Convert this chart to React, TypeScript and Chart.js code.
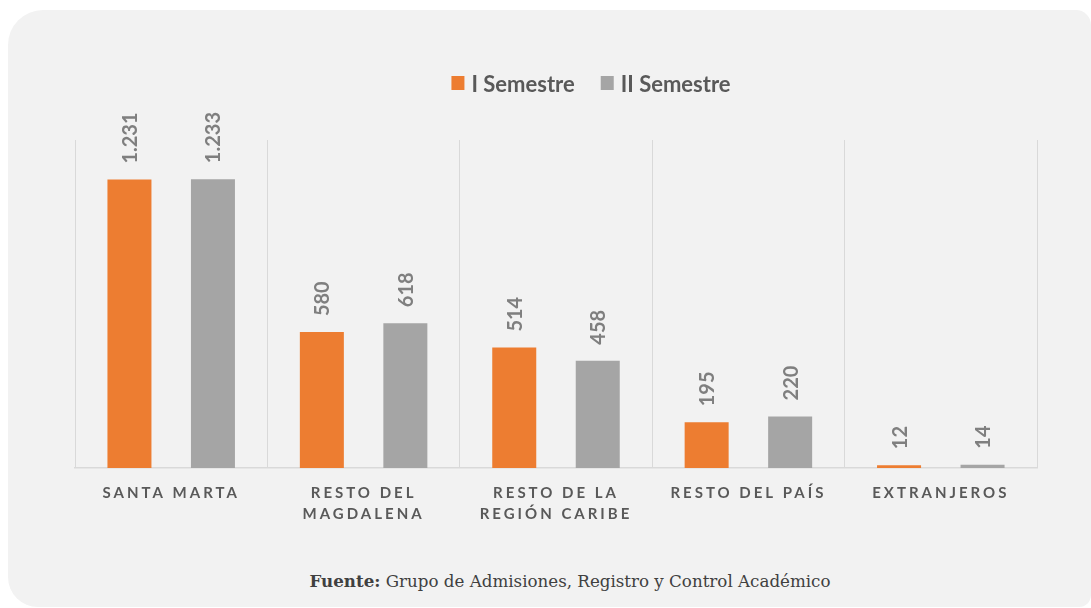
import React, { useEffect, useRef } from "react";
import { Chart, registerables } from "chart.js";

Chart.register(...registerables);

// ---- Data ----
const categories: string[][] = [
  ["SANTA MARTA"],
  ["RESTO DEL", "MAGDALENA"],
  ["RESTO DE LA", "REGIÓN CARIBE"],
  ["RESTO DEL PAÍS"],
  ["EXTRANJEROS"],
];
const semestreI = [1231, 580, 514, 195, 12];
const semestreII = [1233, 618, 458, 220, 14];
const seriesNames = ["I Semestre", "II Semestre"];
const yMax = 1400;

// ---- Styles ----
const ORANGE = "#ED7D31";
const GRAY = "#A5A5A5";
const TEXT_DARK = "#595959";
const LABEL_GRAY = "#7F7F7F";
const GRID = "#D9D9D9";
const SANS = "Lato, 'Open Sans', sans-serif";

const fmt = (v: number) => String(v).replace(/\B(?=(\d{3})+(?!\d))/g, ".");

const letterSpacingPlugin = {
  id: "letterSpacing",
  beforeDraw(chart: any) {
    chart.ctx.letterSpacing = "3px";
  },
};

const valueLabels = {
  id: "valueLabels",
  afterDatasetsDraw(chart: any) {
    const ctx = chart.ctx;
    ctx.save();
    ctx.letterSpacing = "0px";
    ctx.font = `bold 20px ${SANS}`;
    ctx.fillStyle = LABEL_GRAY;
    ctx.textAlign = "left";
    ctx.textBaseline = "alphabetic";
    chart.data.datasets.forEach((ds: any, i: number) => {
      const meta = chart.getDatasetMeta(i);
      meta.data.forEach((bar: any, j: number) => {
        ctx.save();
        ctx.translate(bar.x, bar.y - 16);
        ctx.rotate(-Math.PI / 2);
        ctx.fillText(fmt(ds.data[j]), 0, 7.5);
        ctx.restore();
      });
    });
    ctx.restore();
  },
};

const customLegend = {
  id: "customLegend",
  afterDraw(chart: any) {
    const ctx = chart.ctx;
    ctx.save();
    ctx.letterSpacing = "0px";
    ctx.font = `bold 22px ${SANS}`;
    ctx.textAlign = "left";
    ctx.textBaseline = "alphabetic";
    const box = 13;
    const gapBox = 7;
    const gapItems = 26;
    const items = chart.data.datasets.map((ds: any) => ({
      label: ds.label,
      color: ds.backgroundColor,
      w: ctx.measureText(ds.label).width,
    }));
    const total =
      items.reduce((a: number, it: any) => a + box + gapBox + it.w, 0) +
      gapItems * (items.length - 1);
    const centerX = chart.chartArea.left + 516;
    let x = centerX - total / 2;
    const baseY = 81.5;
    items.forEach((it: any) => {
      ctx.fillStyle = it.color;
      ctx.fillRect(x, 66, box, box + 1);
      ctx.fillStyle = TEXT_DARK;
      ctx.fillText(it.label, x + box + gapBox, baseY);
      x += box + gapBox + it.w + gapItems;
    });
    ctx.restore();
  },
};

function BarChart() {
  const ref = useRef<HTMLCanvasElement | null>(null);
  useEffect(() => {
    if (!ref.current) return;
    const chart = new Chart(ref.current, {
      type: "bar",
      data: {
        labels: categories,
        datasets: [
          {
            label: seriesNames[0],
            data: semestreI,
            backgroundColor: ORANGE,
            categoryPercentage: 0.868,
            barPercentage: 0.527,
          },
          {
            label: seriesNames[1],
            data: semestreII,
            backgroundColor: GRAY,
            categoryPercentage: 0.868,
            barPercentage: 0.527,
          },
        ],
      },
      options: {
        responsive: false,
        animation: false,
        layout: { padding: { top: 130, left: 67, right: 54, bottom: 0 } },
        plugins: {
          legend: { display: false },
          tooltip: { enabled: false },
          title: { display: false },
        },
        scales: {
          x: {
            grid: {
              display: true,
              offset: true,
              color: GRID,
              lineWidth: 1,
              drawTicks: false,
            },
            border: { display: true, color: GRID, width: 1.5 },
            ticks: {
              color: TEXT_DARK,
              font: { family: SANS, size: 15, weight: "bold", lineHeight: 1.4 },
              padding: 15,
              maxRotation: 0,
              autoSkip: false,
            },
            afterFit: (scale: any) => {
              scale.height = 72;
            },
          },
          y: {
            display: false,
            min: 0,
            max: yMax,
            grid: { display: false },
          },
        },
      },
      plugins: [letterSpacingPlugin, valueLabels, customLegend],
    } as any);
    return () => chart.destroy();
  }, []);
  return (
    <canvas
      ref={ref}
      width={1083}
      height={530}
      style={{ position: "absolute", left: 0, top: 0, width: 1083, height: 530 }}
    />
  );
}

export default function App() {
  return (
    <div
      style={{
        position: "absolute",
        left: 8,
        top: 10,
        width: 1083,
        height: 597,
        background: "#F2F2F2",
        borderRadius: "35px 15px 12px 30px",
        overflow: "hidden",
      }}
    >
      <BarChart />
      <div
        style={{
          position: "absolute",
          left: 562,
          top: 560,
          transform: "translateX(-50%)",
          whiteSpace: "nowrap",
          fontFamily: "'DejaVu Serif', serif",
          fontSize: 16.7,
          lineHeight: "22px",
          color: "#404040",
        }}
      >
        <b>Fuente:</b> Grupo de Admisiones, Registro y Control Académico
      </div>
    </div>
  );
}
